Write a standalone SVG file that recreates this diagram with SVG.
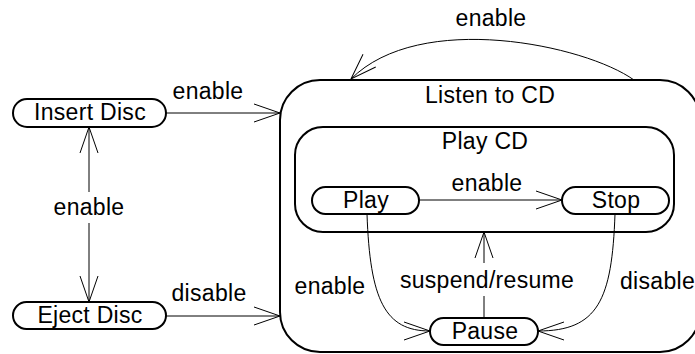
<svg xmlns="http://www.w3.org/2000/svg" width="695" height="354" viewBox="0 0 695 354">
<defs>
<style>
text{font-family:"Liberation Sans",Arial,sans-serif;font-size:23px;letter-spacing:0.3px;fill:#000;text-anchor:middle}
.box{fill:#fff;stroke:#000;stroke-width:2}
.pill{fill:#fff;stroke:#000;stroke-width:2}
.edge{fill:none;stroke:#000;stroke-width:1}
.arr{marker-end:url(#open)}
</style>
<marker id="open" markerUnits="userSpaceOnUse" markerWidth="30" markerHeight="22" refX="0" refY="0" viewBox="-28 -11 30 22" orient="auto" overflow="visible">
<path d="M-26,-9 L0,0 L-26,9" fill="none" stroke="#000" stroke-width="1"/>
</marker>
</defs>
<g id="listen-to-cd">
<rect class="box" x="280" y="80" width="420" height="272" rx="40" ry="40"/>
<text x="490" y="103">Listen to CD</text>
</g>
<g id="play-cd">
<rect class="box" x="295" y="127" width="379" height="105" rx="28" ry="28"/>
<text x="485" y="149">Play CD</text>
</g>
<g id="insert-disc">
<rect class="pill" x="13" y="99" width="153" height="28" rx="14" ry="14"/>
<text x="90" y="120">Insert Disc</text>
</g>
<g id="eject-disc">
<rect class="pill" x="13" y="302" width="153" height="27" rx="13.5" ry="13.5"/>
<text x="90" y="323">Eject Disc</text>
</g>
<g id="play">
<rect class="pill" x="312" y="187" width="107" height="27" rx="13.5" ry="13.5"/>
<text x="366" y="208">Play</text>
</g>
<g id="stop">
<rect class="pill" x="562" y="187" width="107" height="27" rx="13.5" ry="13.5"/>
<text x="616" y="208">Stop</text>
</g>
<g id="pause">
<rect class="pill" x="430" y="318" width="108" height="27" rx="13.5" ry="13.5"/>
<text x="485" y="339">Pause</text>
</g>
<g id="connectors">
<path class="edge arr" d="M634,80 C585,45 420,10 351,79"/>
<text x="491" y="26">enable</text>
<path class="edge arr" d="M166,113 L280,113"/>
<text x="208" y="99">enable</text>
<path class="edge arr" d="M89,192 L89,127"/>
<path class="edge arr" d="M89,223 L89,302"/>
<text x="89" y="215">enable</text>
<path class="edge arr" d="M166,316 L280,316"/>
<text x="209" y="301">disable</text>
<path class="edge arr" d="M419,200 L562,200"/>
<text x="487" y="191">enable</text>
<path class="edge arr" d="M367,214 C370,300 385,331 430,331"/>
<text x="330" y="294">enable</text>
<path class="edge arr" d="M615,214 C612,300 598,331 538,331"/>
<text x="620" y="289" style="text-anchor:start">disable</text>
<path class="edge" d="M484,318 L484,296"/>
<path class="edge arr" d="M484,263 L484,232"/>
<text x="487" y="288">suspend/resume</text>
</g>
</svg>
